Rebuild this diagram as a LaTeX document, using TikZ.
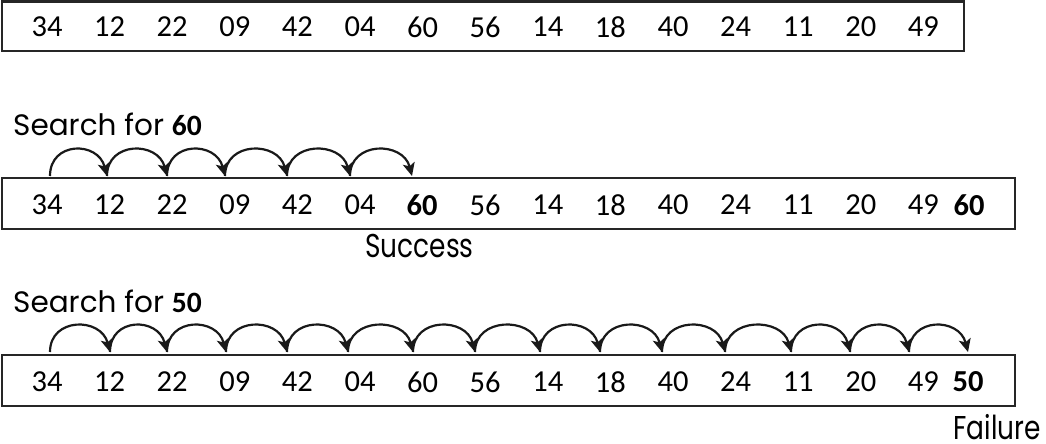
\documentclass[tikz,border=0pt]{standalone}
\usepackage{fontspec}
\setmainfont{Carlito}
\newfontfamily\labfont{Poppins}
\newfontfamily\labfontn[FakeStretch=0.8]{Poppins}
\usetikzlibrary{arrows.meta}
\tikzset{
  box/.style={draw=black!85, line width=2.2pt},
  arr/.style={draw=black!90, line width=2.2pt, -{Stealth[length=13pt,width=12pt,inset=3pt]}},
  num/.style={inner sep=0pt, font=\fontsize{30.5}{36}\selectfont},
  bnum/.style={inner sep=0pt, font=\fontsize{30.5}{36}\selectfont\bfseries},
  lab/.style={inner sep=0pt, anchor=base west, font=\labfont\fontsize{29.5}{34}\selectfont},
  labn/.style={inner sep=0pt, anchor=base west, font=\labfontn\fontsize{33}{38}\selectfont}
}
\begin{document}
\begin{tikzpicture}[x=1pt,y=-1pt]
\useasboundingbox (0,0) rectangle (1046,444);
% row 1
\draw[box] (2,1.5) rectangle (964,51);
\foreach \v [count=\i from 0] in {34,12,22,09,42,04,60,56,14,18,40,24,11,20,49}{
  \node[num] (a\i) at (47+62.6*\i,27) {\v};
}
% row 2
\node[lab] (s60) at (13,135) {Search for {\rmfamily\bfseries 60}};
\draw[box] (2,178) rectangle (1015,229);
\foreach \v [count=\i from 0] in {34,12,22,09,42,04}{
  \node[num] (b\i) at (47+62.6*\i,205) {\v};
}
\node[bnum] (b6) at (422,205) {60};
\foreach \v [count=\i from 7] in {56,14,18,40,24,11,20,49}{
  \node[num] (b\i) at (47+62.6*\i,205) {\v};
}
\node[bnum] (b15) at (969,205) {60};
\node[labn] (succ) at (365,257) {Success};
\foreach \x [count=\i from 0] in {50,107,167,225,287,350,412}{
  \coordinate (p\i) at (\x,176);
}
\foreach \i [evaluate=\i as \j using int(\i+1)] in {0,...,5}{
  \draw[arr] (p\i) .. controls ([yshift=35pt]p\i) and ([xshift=-9pt,yshift=35pt]p\j) .. (p\j);
}
% row 3
\node[lab] (s50) at (13,312) {Search for {\rmfamily\bfseries 50}};
\draw[box] (2,355) rectangle (1015,406);
\foreach \v [count=\i from 0] in {34,12,22,09,42,04,60,56,14,18,40,24,11,20,49}{
  \node[num] (c\i) at (47+62.6*\i,382) {\v};
}
\node[bnum] (c15) at (968,382) {50};
\node[labn, anchor=base east] (fail) at (1041,439) {Failure};
\foreach \x [count=\i from 0] in {50,110,167,226,287,348,413,475,540,600,662,725,791,850,909,968}{
  \coordinate (q\i) at (\x,352);
}
\foreach \i [evaluate=\i as \j using int(\i+1)] in {0,...,14}{
  \draw[arr] (q\i) .. controls ([yshift=35pt]q\i) and ([xshift=-9pt,yshift=35pt]q\j) .. (q\j);
}
\end{tikzpicture}
\end{document}
